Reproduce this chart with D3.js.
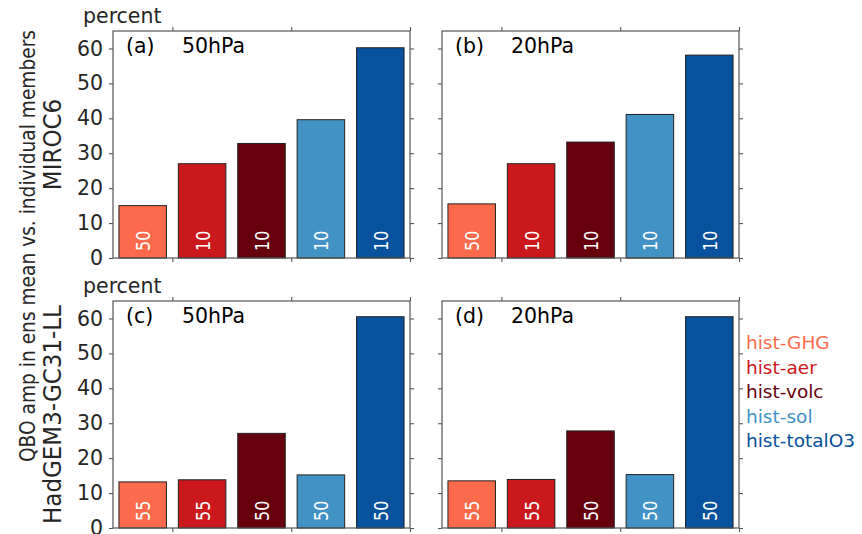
<!DOCTYPE html>
<html>
<head>
<meta charset="utf-8">
<script src="https://cdn.jsdelivr.net/npm/d3@7"></script>
<style>
  body { margin: 0; background: #fff; }
  svg { font-family: "DejaVu Sans", sans-serif; }
</style>
</head>
<body>
<svg width="862" height="534"></svg>
<script>
// forcing experiments, same order in every panel
const forcings = ["hist-GHG", "hist-aer", "hist-volc", "hist-sol", "hist-totalO3"];
const forcingColors = ["#fb6a4a", "#cb181d", "#67000d", "#4292c6", "#08519c"];

// QBO amplitude ratio (percent)
const miroc50 = [15.0, 27.0, 32.8, 39.6, 60.2];
const miroc20 = [15.5, 27.0, 33.2, 41.1, 58.1];
const hadgem50 = [13.2, 13.8, 27.1, 15.2, 60.5];
const hadgem20 = [13.5, 13.9, 27.8, 15.3, 60.5];

// ensemble sizes printed inside the bars
const mirocMembers = [50, 10, 10, 10, 10];
const hadgemMembers = [55, 55, 50, 50, 50];

const yTicks = [0, 10, 20, 30, 40, 50, 60];
const xTicks = [1, 3, 5];

const panels = [
  {tag: "(a)", level: "50hPa", values: miroc50, members: mirocMembers, col: 0, row: 0},
  {tag: "(b)", level: "20hPa", values: miroc20, members: mirocMembers, col: 1, row: 0},
  {tag: "(c)", level: "50hPa", values: hadgem50, members: hadgemMembers, col: 0, row: 1},
  {tag: "(d)", level: "20hPa", values: hadgem20, members: hadgemMembers, col: 1, row: 1}
];

const svg = d3.select("svg");
const colLeft = [113, 442];
const rowTop = [31, 301];
const pw = 297, ph = 227;
const spine = "#555";
const tickText = "#262626";

panels.forEach(p => {
  const x0 = colLeft[p.col], y0 = rowTop[p.row];
  const g = svg.append("g").attr("transform", `translate(${x0},${y0})`);

  const x = d3.scaleLinear().domain([0, 5]).range([0, pw]);
  const y = d3.scaleLinear().domain([0, 65]).range([ph, 0]);

  // bars
  g.selectAll("rect.bar")
    .data(p.values)
    .enter().append("rect")
    .attr("class", "bar")
    .attr("x", (d, i) => x(i + 0.1))
    .attr("width", x(0.8) - x(0))
    .attr("y", d => y(d))
    .attr("height", d => y(0) - y(d))
    .style("fill", (d, i) => forcingColors[i])
    .style("stroke", "#222")
    .style("stroke-width", 1);

  // ensemble sizes, rotated (glyphs a little wider, like the source)
  g.selectAll("text.members")
    .data(p.members)
    .enter().append("text")
    .attr("class", "members")
    .attr("transform", (d, i) => `translate(${x(i + 0.5) + 1},${y(0) - 7}) rotate(-90) scale(1,1.2)`)
    .attr("dominant-baseline", "central")
    .style("font-size", "16px")
    .style("fill", "#fff")
    .text(d => d);

  // axes with outward ticks on all four sides
  const left = g.append("g").call(d3.axisLeft(y).tickValues(yTicks).tickSize(4).tickPadding(6)
    .tickFormat(p.col == 0 ? d3.format("d") : ""));
  const right = g.append("g").attr("transform", `translate(${pw},0)`)
    .call(d3.axisRight(y).tickValues(yTicks).tickSize(4).tickFormat(""));
  const top = g.append("g").call(d3.axisTop(x).tickValues(xTicks).tickSize(4).tickFormat(""));
  const bottom = g.append("g").attr("transform", `translate(0,${ph})`)
    .call(d3.axisBottom(x).tickValues(xTicks).tickSize(4).tickFormat(""));
  [left, right, top, bottom].forEach(a => {
    a.select(".domain").remove();
    a.selectAll("line").style("stroke", spine).style("stroke-width", 1.1);
    a.selectAll("text").style("font-size", "20.5px").style("fill", tickText)
      .style("font-family", "DejaVu Sans, sans-serif");
  });

  // frame
  g.append("rect")
    .attr("width", pw).attr("height", ph)
    .style("fill", "none").style("stroke", spine).style("stroke-width", 1.2);

  // panel label
  g.append("text").attr("x", 13).attr("y", 22)
    .style("font-size", "20.5px").text(p.tag);
  g.append("text").attr("x", 69).attr("y", 22)
    .style("font-size", "20.5px").text(p.level);

  if (p.col == 0) {
    g.append("text").attr("x", -30).attr("y", -8)
      .style("font-size", "20.5px").style("fill", tickText).text("percent");
  }
});

// model names
const models = ["MIROC6", "HadGEM3-GC31-LL"];
models.forEach((m, i) => {
  svg.append("text")
    .attr("transform", `translate(61,${rowTop[i] + ph / 2}) rotate(-90) scale(1,1.1)`)
    .attr("text-anchor", "middle")
    .style("font-size", "23px").style("fill", tickText)
    .text(m);
});

svg.append("text")
  .attr("transform", "translate(35,246) rotate(-90) scale(1,1.1)")
  .attr("text-anchor", "middle")
  .style("font-size", "18.6px").style("fill", tickText)
  .text("QBO amp in ens mean vs. individual members");

// legend as coloured text
svg.selectAll("text.legend")
  .data(forcings)
  .enter().append("text")
  .attr("class", "legend")
  .attr("x", 746)
  .attr("y", (d, i) => 349 + i * 24.5)
  .style("font-size", "18.5px")
  .style("fill", (d, i) => forcingColors[i])
  .text(d => d);
</script>
</body>
</html>
